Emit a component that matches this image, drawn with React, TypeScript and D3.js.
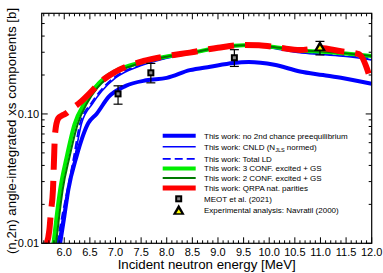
import React from 'react';
import * as d3 from 'd3';

// energies [MeV] and cross sections [b]
const noPreEqE = [5.92, 6.0, 6.08, 6.24, 6.47, 6.63, 6.87, 7.2, 7.6, 8.0, 8.45, 8.85, 9.3, 9.6, 10.1, 10.6, 11.05, 11.45, 12.0];
const noPreEqV = [0.010, 0.016, 0.026, 0.047, 0.085, 0.10, 0.136, 0.165, 0.182, 0.190, 0.218, 0.232, 0.248, 0.252, 0.240, 0.213, 0.200, 0.189, 0.171];

const cnldE = [5.88, 6.0, 6.1, 6.2, 6.34, 6.55, 6.73, 7.0, 7.5, 8.0, 8.5, 9.0, 9.5, 9.8, 10.2, 10.6, 11.0, 11.5, 12.0];
const cnldV = [0.010, 0.018, 0.028, 0.045, 0.085, 0.12, 0.15, 0.19, 0.237, 0.27, 0.295, 0.32, 0.335, 0.333, 0.315, 0.297, 0.288, 0.278, 0.262];

const totalLdE = [5.86, 5.98, 6.08, 6.18, 6.31, 6.52, 6.7, 7.0, 7.5, 8.0, 8.5, 9.0, 9.5, 9.8, 10.2, 10.6, 11.0, 11.5, 12.0];
const totalLdV = [0.010, 0.018, 0.028, 0.045, 0.085, 0.12, 0.15, 0.195, 0.24, 0.272, 0.297, 0.322, 0.337, 0.335, 0.318, 0.300, 0.293, 0.284, 0.268];

const conf3E = [5.79, 5.85, 5.92, 6.05, 6.2, 6.4, 6.6, 6.8, 7.0, 7.25, 7.5, 8.0, 8.5, 9.0, 9.5, 9.8, 10.2, 10.6, 11.0, 11.5, 12.0];
const conf3V = [0.010, 0.016, 0.026, 0.047, 0.083, 0.122, 0.160, 0.192, 0.215, 0.235, 0.250, 0.278, 0.298, 0.325, 0.340, 0.338, 0.325, 0.310, 0.303, 0.293, 0.280];

const conf2E = [5.84, 5.9, 5.97, 6.1, 6.26, 6.45, 6.65, 6.85, 7.05, 7.3, 7.5, 8.0, 8.5, 9.0, 9.5, 9.8, 10.2, 10.6, 11.0, 11.5, 12.0];
const conf2V = [0.010, 0.016, 0.026, 0.046, 0.083, 0.122, 0.160, 0.190, 0.214, 0.234, 0.249, 0.277, 0.298, 0.325, 0.340, 0.338, 0.325, 0.311, 0.304, 0.294, 0.281];

const qrpaE = [5.66, 5.71, 5.74, 5.78, 5.8, 5.82, 5.88, 5.95, 6.02, 6.15, 6.3, 6.55, 6.72, 7.0, 7.55, 8.0, 8.45, 9.0, 9.5, 9.8, 10.2, 10.6, 11.0, 11.4, 11.75, 12.0];
const qrpaV = [0.010, 0.0127, 0.0175, 0.026, 0.044, 0.070, 0.092, 0.097, 0.100, 0.110, 0.122, 0.152, 0.178, 0.212, 0.257, 0.280, 0.298, 0.325, 0.342, 0.340, 0.325, 0.312, 0.324, 0.305, 0.290, 0.172];

const meotE = [7.05, 7.69, 9.32];
const meotV = [0.143, 0.208, 0.272];
const meotLo = [0.119, 0.174, 0.233];
const meotHi = [0.165, 0.246, 0.314];

const navE = [10.99];
const navV = [0.332];
const navLo = [0.286];
const navHi = [0.364];

const xMajor = [6.0, 6.5, 7.0, 7.5, 8.0, 8.5, 9.0, 9.5, 10.0, 10.5, 11.0, 11.5, 12.0];
const yMajor = [0.01, 0.1];
const yMajorLabels = ['0.01', '0.10'];
const yMinor = [0.02, 0.03, 0.04, 0.05, 0.06, 0.07, 0.08, 0.09, 0.2, 0.3, 0.4, 0.5];

const legendLabels = [
  'This work: no 2nd chance preequilibrium',
  'This work: CNLD (N',
  'This work: Total LD',
  'This work: 3 CONF. excited + GS',
  'This work: 2 CONF. excited + GS',
  'This work: QRPA nat. parities',
  'MEOT et al. (2021)',
  'Experimental analysis: Navratil (2000)',
];

const W = 383;
const H = 273;
const left = 41.7, right = 371.7, top = 13.3, bottom = 243.3;
const FONT = '"Liberation Sans", Arial, sans-serif';

const x = d3.scaleLinear().domain([5.56, 12.0]).range([left, right]);
const y = d3.scaleLog().domain([0.01, 0.6]).range([bottom, top]);

const xMinor = d3.range(56, 121).map(i => i / 10).filter(v => Math.abs(v * 2 - Math.round(v * 2)) > 1e-6);

const line = (es: number[], vs: number[]) =>
  d3.line<number>().x((_, i) => x(es[i])).y(v => y(v)).curve(d3.curveMonotoneX)(vs) || '';

type Style = { color: string; width: number; dash?: string };
const styles: Style[] = [
  { color: '#0000ff', width: 4 },
  { color: '#0000ff', width: 1.6 },
  { color: '#0000ff', width: 1.8, dash: '8,4' },
  { color: '#00ee00', width: 4 },
  { color: '#007800', width: 2 },
  { color: '#ff0000', width: 6, dash: '26,11' },
];
const curves: [number[], number[]][] = [
  [noPreEqE, noPreEqV],
  [cnldE, cnldV],
  [totalLdE, totalLdV],
  [conf3E, conf3V],
  [conf2E, conf2V],
  [qrpaE, qrpaV],
];

const Square = ({ cx, cy }: { cx: number; cy: number }) => (
  <g>
    <rect x={cx - 3.5} y={cy - 3.5} width={7} height={7} fill="#000" />
    <rect x={cx - 1.5} y={cy - 1.5} width={3} height={3} fill="#888" />
  </g>
);

const Triangle = ({ cx, cy }: { cx: number; cy: number }) => (
  <g>
    <path d={`M${cx},${cy - 6} L${cx + 6},${cy + 4.5} L${cx - 6},${cy + 4.5} Z`} fill="#000" />
    <path d={`M${cx},${cy - 1} L${cx + 2.5},${cy + 3} L${cx - 2.5},${cy + 3} Z`} fill="#ffff00" />
  </g>
);

const ErrBar = ({ e, lo, hi }: { e: number; lo: number; hi: number }) => (
  <g stroke="#000" strokeWidth={1.2}>
    <line x1={x(e)} x2={x(e)} y1={y(lo)} y2={y(hi)} />
    <line x1={x(e) - 4.5} x2={x(e) + 4.5} y1={y(lo)} y2={y(lo)} />
    <line x1={x(e) - 4.5} x2={x(e) + 4.5} y1={y(hi)} y2={y(hi)} />
  </g>
);

export default function App() {
  const legX0 = 162.7, legX1 = 195.7, legTx = 204;
  const legY = [135.7, 146.8, 158.8, 168.6, 178, 188, 198.8, 210.2];
  return (
    <div style={{ position: 'absolute', left: 0, top: 0 }}>
      <svg width={W} height={H} style={{ display: 'block', background: '#fff' }}>
        <defs>
          <clipPath id="plot">
            <rect x={left} y={top} width={right - left} height={bottom - top} />
          </clipPath>
        </defs>
        <g clipPath="url(#plot)" fill="none">
          {curves.map(([es, vs], i) => (
            <path key={i} d={line(es, vs)} stroke={styles[i].color} strokeWidth={styles[i].width}
              strokeDasharray={styles[i].dash} />
          ))}
        </g>
        {meotE.map((e, i) => (
          <g key={'m' + i}>
            <ErrBar e={e} lo={meotLo[i]} hi={meotHi[i]} />
            <Square cx={x(e)} cy={y(meotV[i])} />
          </g>
        ))}
        {navE.map((e, i) => (
          <g key={'n' + i}>
            <ErrBar e={e} lo={navLo[i]} hi={navHi[i]} />
            <Triangle cx={x(e)} cy={y(navV[i])} />
          </g>
        ))}
        {/* frame and ticks */}
        <rect x={left} y={top} width={right - left} height={bottom - top} fill="none" stroke="#000" strokeWidth={1.2} />
        <g stroke="#000" strokeWidth={1}>
          {xMajor.map(v => (
            <g key={'xM' + v}>
              <line x1={x(v)} x2={x(v)} y1={bottom} y2={bottom - 6} />
              <line x1={x(v)} x2={x(v)} y1={top} y2={top + 6} />
            </g>
          ))}
          {xMinor.map(v => (
            <g key={'xm' + v}>
              <line x1={x(v)} x2={x(v)} y1={bottom} y2={bottom - 3} />
              <line x1={x(v)} x2={x(v)} y1={top} y2={top + 3} />
            </g>
          ))}
          {yMajor.map(v => (
            <g key={'yM' + v}>
              <line x1={left} x2={left + 6} y1={y(v)} y2={y(v)} />
              <line x1={right} x2={right - 6} y1={y(v)} y2={y(v)} />
            </g>
          ))}
          {yMinor.map(v => (
            <g key={'ym' + v}>
              <line x1={left} x2={left + 3} y1={y(v)} y2={y(v)} />
              <line x1={right} x2={right - 3} y1={y(v)} y2={y(v)} />
            </g>
          ))}
        </g>
        <g fontFamily={FONT} fontSize={11} fill="#000">
          {xMajor.map(v => (
            <text key={'xl' + v} x={x(v)} y={bottom + 12.5} textAnchor="middle">{v.toFixed(1)}</text>
          ))}
          {yMajor.map((v, i) => (
            <text key={'yl' + v} x={left - 2.5} y={y(v) + 4} textAnchor="end">{yMajorLabels[i]}</text>
          ))}
        </g>
        <text x={(left + right) / 2} y={268.5} textAnchor="middle" fontFamily={FONT} fontSize={13.3}>
          Incident neutron energy [MeV]
        </text>
        <text transform={`translate(15.5,131) rotate(-90)`} textAnchor="middle"
          fontFamily={FONT} fontSize={13.3}>
          (n,2n) angle-integrated xs components [b]
        </text>
        {/* legend */}
        <g fontFamily={FONT} fontSize={8} fill="#000">
          {styles.map((s, i) => (
            <line key={'ll' + i} x1={legX0} x2={legX1} y1={legY[i]} y2={legY[i]} stroke={s.color}
              strokeWidth={s.width === 6 ? 5 : s.width} strokeDasharray={s.dash ? (i === 5 ? undefined : '8,4') : undefined} />
          ))}
          <Square cx={(legX0 + legX1) / 2 - 0.5} cy={legY[6]} />
          <Triangle cx={(legX0 + legX1) / 2 - 0.5} cy={legY[7]} />
          {legendLabels.map((t, i) => (
            <text key={'lt' + i} x={legTx} y={legY[i] + 2.8}>
              {t}
              {i === 1 && (
                <>
                  <tspan fontSize={5.5} dy={2}>JLS</tspan>
                  <tspan dy={-2}> normed)</tspan>
                </>
              )}
            </text>
          ))}
        </g>
      </svg>
    </div>
  );
}
